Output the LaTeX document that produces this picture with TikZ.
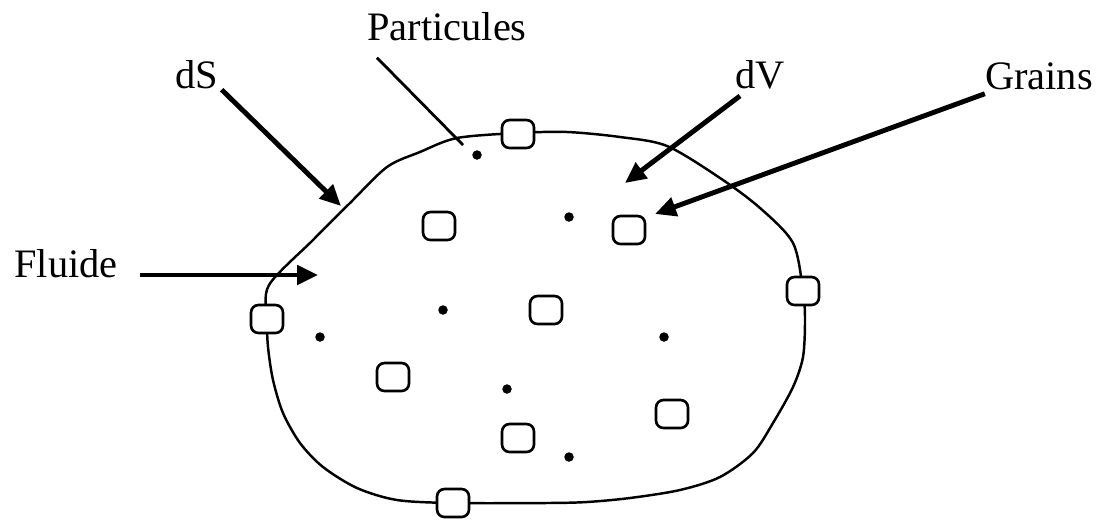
\documentclass[tikz,border=0pt]{standalone}
\usepackage{fontspec}
\setmainfont{Liberation Serif}
\usetikzlibrary{arrows.meta}

\begin{document}
\begin{tikzpicture}[
    x=0.02cm, y=-0.02cm,
    lbl/.style={font=\fontsize{23}{27}\selectfont, inner sep=0pt, anchor=base},
    grain/.style={draw, line width=1.5pt, fill=white, rounded corners=0.15cm,
                  minimum width=0.64cm, minimum height=0.56cm, inner sep=0pt},
    dot/.style={circle, fill, inner sep=0pt, minimum size=0.19cm},
    bigarrow/.style={line width=2.8pt, -{Triangle[length=0.42cm, width=0.38cm]}},
    thinline/.style={line width=1.6pt},
]
\useasboundingbox (0,0) rectangle (1097,521);

% ---------- outline of the volume ----------
\draw[line width=1.4pt] plot[smooth cycle, tension=0.5] coordinates {
  (267,319) (269,285) (313,240) (350,203) (387,167) (420,152) (457,138)
  (518,133) (567,132) (620,137) (667,146) (720,178) (760,208) (793,243)
  (803,291) (805,320) (803,357) (793,387) (773,423) (753,453) (720,477)
  (680,490) (630,498) (587,502) (547,503) (453,503) (397,500) (357,488)
  (323,467) (300,443) (283,413) (273,380) (268,347)};

% ---------- grains ----------
\node[grain] (g1)  at (518,134) {};
\node[grain] (g2)  at (439,226) {};
\node[grain] (g3)  at (629,230) {};
\node[grain] (g4)  at (267,319) {};
\node[grain] (g5)  at (546,310) {};
\node[grain] (g6)  at (803,291) {};
\node[grain] (g7)  at (393,377) {};
\node[grain] (g8)  at (518,438) {};
\node[grain] (g9)  at (672,414) {};
\node[grain] (g10) at (453,503) {};

% ---------- particles ----------
\node[dot] (p1) at (477,155) {};
\node[dot] (p2) at (569,217) {};
\node[dot] (p3) at (443,310) {};
\node[dot] (p4) at (320,337) {};
\node[dot] (p5) at (664,337) {};
\node[dot] (p6) at (507,389) {};
\node[dot] (p7) at (569,457) {};

% ---------- labels ----------
\node[lbl] (part)   at (447,40)  {Particules};
\node[lbl] (ds)     at (197,88)  {dS};
\node[lbl] (dv)     at (760,88)  {dV};
\node[lbl] (grains) at (1039,89) {Grains};
\node[lbl] (fluide) at (66,277)  {Fluide};

% arrow ends
\coordinate (parttip)   at (463,145);
\coordinate (dstip)     at (341,206);
\coordinate (dvtip)     at (625,183);
\coordinate (graintip)  at (655,214);
\coordinate (fluidetip) at (318,275);

% ---------- arrows ----------
\draw[thinline] ([shift={(10,17)}]part.south west) -- (parttip);
\draw[bigarrow] ([shift={(3,1)}]ds.south east) -- (dstip);
\draw[bigarrow] ([shift={(5,7)}]dv.south west) -- (dvtip);
\draw[bigarrow] ([shift={(0,4)}]grains.south west) -- (graintip);
\draw[bigarrow] ([shift={(22,-2)}]fluide.base east) -- (fluidetip);

\end{tikzpicture}
\end{document}
